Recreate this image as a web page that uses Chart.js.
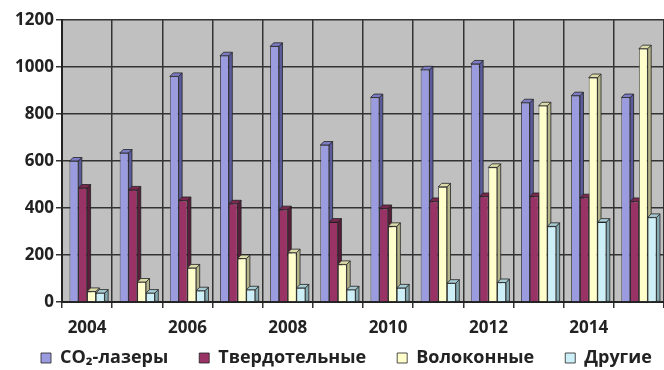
<!DOCTYPE html>
<html>
<head>
<meta charset="utf-8">
<script src="https://cdn.jsdelivr.net/npm/chart.js@4"></script>
<style>
  html, body { margin: 0; padding: 0; background: #fff; }
  #wrap { width: 664px; height: 370px; }
</style>
</head>
<body>
<div id="wrap"><canvas id="chart"></canvas></div>
<script>
"use strict";

const years = ["2004", "2005", "2006", "2007", "2008", "2009", "2010", "2011", "2012", "2013", "2014", "2015"];
const co2 = [600, 634, 960, 1048, 1088, 668, 870, 988, 1013, 848, 878, 870];
const solid = [485, 477, 432, 418, 393, 340, 398, 428, 449, 449, 444, 428];
const fiber = [45, 85, 145, 185, 210, 160, 322, 490, 573, 835, 955, 1078];
const other = [38, 38, 48, 52, 60, 52, 60, 80, 83, 322, 340, 360];
const seriesNames = ["CO₂-лазеры", "Твердотельные", "Волоконные", "Другие"];
const yTicks = [0, 200, 400, 600, 800, 1000, 1200];

const FACES = [
  { front: "#9b9be0", side: "#5c5c9c", top: "#7c7cc4" },
  { front: "#993366", side: "#5a1d3c", top: "#7a2850" },
  { front: "#ffffcc", side: "#b5b58c", top: "#dcdcaa" },
  { front: "#cdf0f8", side: "#86aab2", top: "#a8ccd4" },
];
const DEPTH = 3.5;
const FONT = { family: "'Open Sans', sans-serif", size: 17, weight: "bold" };
const LEGEND_FONT = { family: "'Open Sans', sans-serif", size: 18, weight: "bold" };

// grey plot wall
const plotBg = {
  id: "plotBg",
  beforeDraw(chart) {
    const a = chart.chartArea, ctx = chart.ctx;
    ctx.save();
    ctx.fillStyle = "#c0c0c0";
    ctx.fillRect(a.left, a.top, a.right - a.left, a.bottom - a.top);
    ctx.restore();
  },
};

// legend padding is also its top offset and wrap margin; pull the row up under
// the year labels and widen its box so the wide spacing stays on one line
const legendNudge = {
  id: "legendNudge",
  afterLayout(chart) {
    const lg = chart.legend;
    if (!lg) return;
    lg.top -= 20;
    lg.bottom = chart.height;
    lg.height = lg.bottom - lg.top;
    lg.right = chart.width + 80;
    lg.width = lg.right - lg.left;
  },
};

// fake 3D columns: side + top face, drawn series by series so the next front covers the side
const bars3d = {
  id: "bars3d",
  beforeDatasetsDraw(chart) {
    const ctx = chart.ctx;
    chart.data.datasets.forEach((ds, i) => {
      const meta = chart.getDatasetMeta(i);
      meta.data.forEach((bar) => {
        const p = bar.getProps(["x", "y", "base", "width"], true);
        const l = p.x - p.width / 2, r = p.x + p.width / 2;
        ctx.save();
        ctx.strokeStyle = "#222";
        ctx.lineWidth = 0.8;
        ctx.fillStyle = FACES[i].side;
        ctx.beginPath();
        ctx.moveTo(r, p.y); ctx.lineTo(r + DEPTH, p.y - DEPTH);
        ctx.lineTo(r + DEPTH, p.base); ctx.lineTo(r, p.base);
        ctx.closePath(); ctx.fill(); ctx.stroke();
        ctx.fillStyle = FACES[i].top;
        ctx.beginPath();
        ctx.moveTo(l, p.y); ctx.lineTo(l + DEPTH, p.y - DEPTH);
        ctx.lineTo(r + DEPTH, p.y - DEPTH); ctx.lineTo(r, p.y);
        ctx.closePath(); ctx.fill(); ctx.stroke();
        ctx.restore();
        bar.draw(ctx, chart.chartArea);
      });
    });
    return false;
  },
};

const seriesData = [co2, solid, fiber, other];

new Chart(document.getElementById("chart"), {
  type: "bar",
  data: {
    labels: years,
    datasets: seriesData.map((d, i) => ({
      label: seriesNames[i],
      data: d,
      backgroundColor: FACES[i].front,
      borderColor: "#222",
      borderWidth: 0.8,
      barPercentage: 1,
      categoryPercentage: 0.7,
    })),
  },
  plugins: [plotBg, legendNudge, bars3d],
  options: {
    responsive: true,
    maintainAspectRatio: false,
    animation: false,
    layout: { padding: { left: 10, right: 0, top: 20, bottom: 0 } },
    plugins: {
      legend: {
        position: "bottom",
        align: "start",
        maxHeight: 32,
        labels: {
          color: "#222",
          font: LEGEND_FONT,
          boxWidth: 10,
          boxHeight: 10,
          padding: 31,
        },
      },
      tooltip: { enabled: false },
    },
    scales: {
      x: {
        grid: { offset: true, color: "#333", lineWidth: 1.5, tickLength: 6, tickColor: "#333" },
        border: { color: "#222", width: 2 },
        ticks: {
          color: "#222",
          font: FONT,
          autoSkip: false,
          maxRotation: 0,
          padding: 10,
          callback: (v, i) => (i % 2 === 0 ? years[i] : ""),
        },
        afterFit: (s) => { s.height = 36; },
      },
      y: {
        min: 0,
        max: 1200,
        afterBuildTicks: (s) => { s.ticks = yTicks.map((v) => ({ value: v })); },
        grid: { color: "#333", lineWidth: 1.5, tickLength: 6, tickColor: "#333" },
        border: { color: "#222", width: 2 },
        ticks: { color: "#222", font: FONT, padding: 2, callback: (v) => String(v) },
        afterFit: (s) => { s.width = 52; },
      },
    },
  },
});
</script>
</body>
</html>
